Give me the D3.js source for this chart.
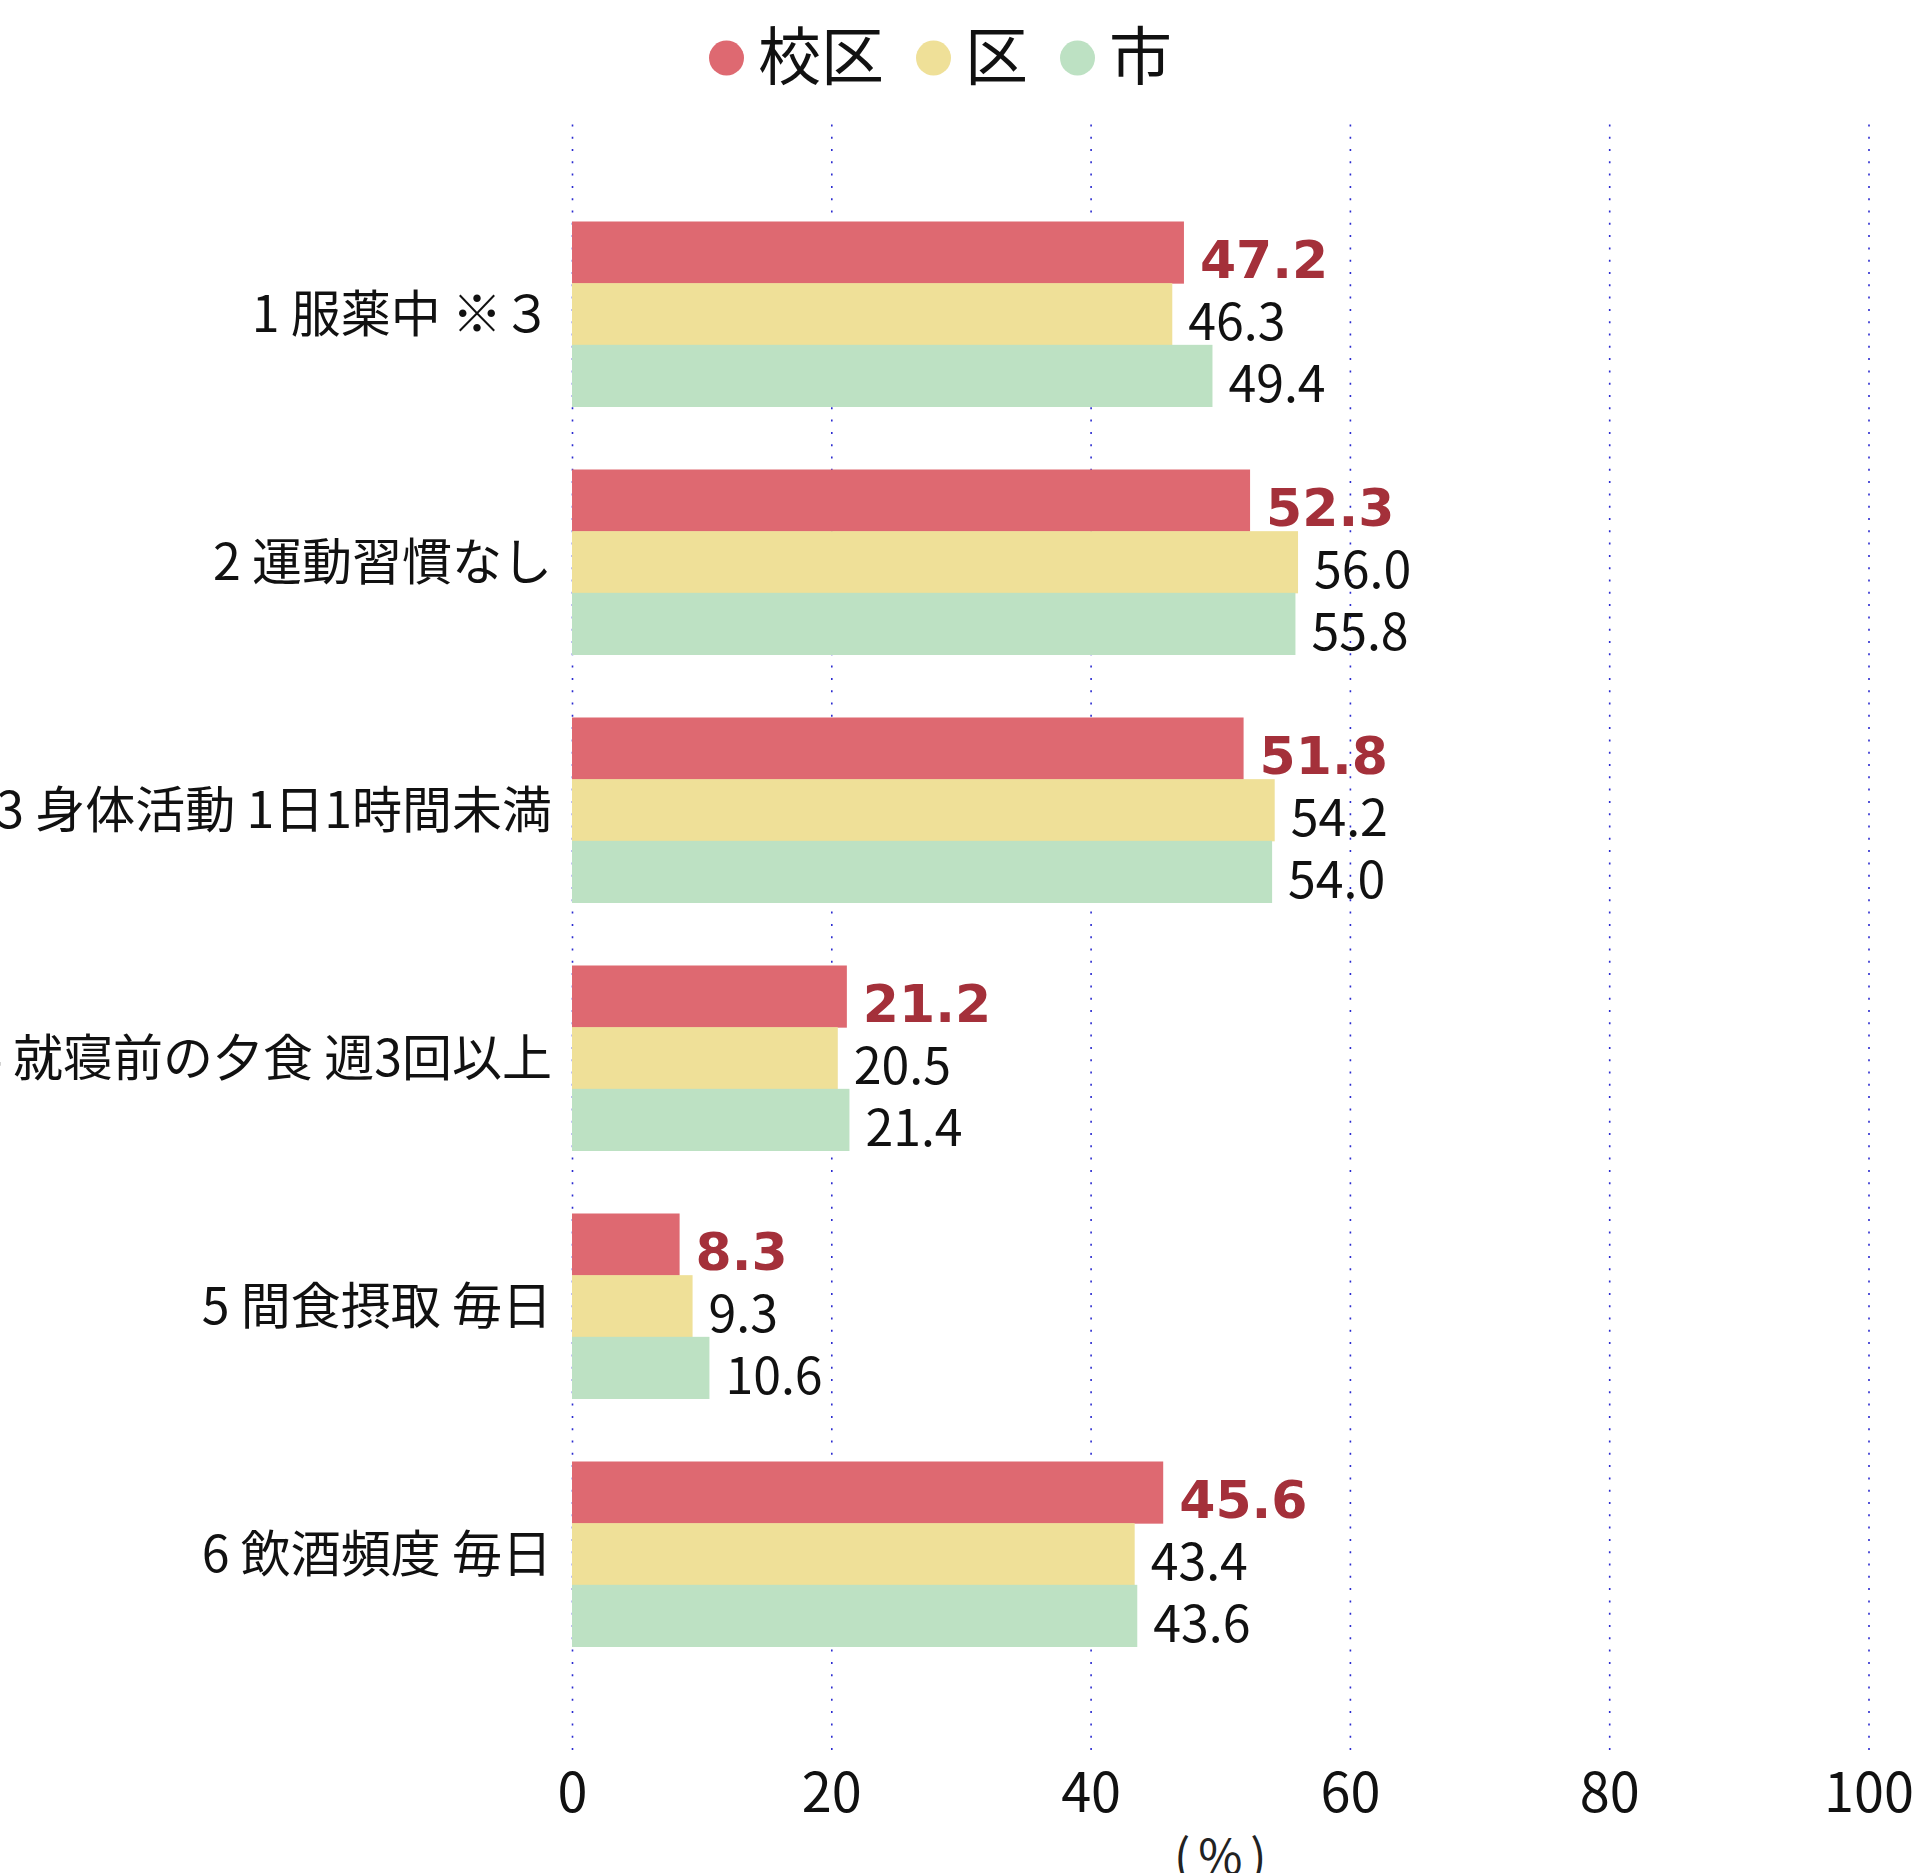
<!DOCTYPE html>
<html lang="ja">
<head>
    <meta charset="UTF-8">
    <script src="https://d3js.org/d3.v7.min.js"></script>
    <title>chart</title>
    <style>
        body { margin: 0; background: #fff; }
        text { font-family: "Noto Sans CJK JP", "Noto Sans", sans-serif; }
    </style>
</head>
<body>
    <div class="chart"></div>
    <script>
        const categories = ["1 服薬中 ※３", "2 運動習慣なし", "3 身体活動 1日1時間未満",
                            "4 就寝前の夕食 週3回以上", "5 間食摂取 毎日", "6 飲酒頻度 毎日"];
        const seriesNames = ["校区", "区", "市"];
        const kouku = [47.2, 52.3, 51.8, 21.2, 8.3, 45.6];
        const ku = [46.3, 56.0, 54.2, 20.5, 9.3, 43.4];
        const shi = [49.4, 55.8, 54.0, 21.4, 10.6, 43.6];
        const xTicks = [0, 20, 40, 60, 80, 100];
        const colors = ["#de6971", "#efe098", "#bde1c3"];

        const W = 1916, H = 1873;
        const left = 572, right = 1868.5, gridTop = 120, gridBottom = 1750;

        const svg = d3.select(".chart").append("svg")
          .attr("width", W).attr("height", H);

        const x = d3.scaleLinear().domain([0, 100]).range([left, right]);
        const y = d3.scaleBand().domain(categories)
          .range([190, 1678]).paddingInner(0.254).paddingOuter(0.127);
        const ySub = d3.scaleBand().domain(seriesNames).range([0, y.bandwidth()]);

        // grid + tick labels
        const axis = svg.append("g")
          .attr("transform", "translate(0," + gridBottom + ")")
          .call(d3.axisBottom(x).tickValues(xTicks)
            .tickSize(-(gridBottom - gridTop)).tickPadding(24));
        axis.select(".domain").remove();
        axis.selectAll("line")
          .attr("stroke", "#2b2bd0")
          .attr("stroke-width", 1.6)
          .attr("stroke-dasharray", "2,10.3");
        axis.selectAll("text")
          .attr("font-size", 54)
          .attr("fill", "#111")
          .style("font-family", "'Noto Sans CJK JP', sans-serif");

        const rows = categories.map((c, i) => ({
          cat: c,
          vals: [kouku[i], ku[i], shi[i]]
        }));

        const groups = svg.selectAll(".grp").data(rows).enter().append("g")
          .attr("class", "grp")
          .attr("transform", d => "translate(0," + y(d.cat) + ")");

        groups.selectAll("rect")
          .data(d => d.vals.map((v, k) => ({ s: seriesNames[k], v: v, k: k })))
          .enter().append("rect")
          .attr("x", x(0))
          .attr("y", d => ySub(d.s))
          .attr("width", d => x(d.v) - x(0))
          .attr("height", ySub.bandwidth() + 0.5)
          .attr("fill", d => colors[d.k]);

        groups.selectAll(".val")
          .data(d => d.vals.map((v, k) => ({ s: seriesNames[k], v: v, k: k })))
          .enter().append("text")
          .attr("class", "val")
          .attr("x", d => x(d.v) + 16)
          .attr("y", d => ySub(d.s) + ySub.bandwidth() / 2 + 26)
          .attr("font-size", d => d.k === 0 ? 52 : 50)
          .attr("font-weight", d => d.k === 0 ? "bold" : "normal")
          .style("font-family", d => d.k === 0 ? "'DejaVu Sans', sans-serif" : "'Noto Sans CJK JP', sans-serif")
          .attr("fill", d => d.k === 0 ? "#a4303a" : "#111")
          .text(d => d.v.toFixed(1));

        // category labels
        svg.selectAll(".cat").data(categories).enter().append("text")
          .attr("class", "cat")
          .attr("x", 552)
          .attr("y", d => y(d) + y.bandwidth() / 2)
          .attr("dy", "0.36em")
          .attr("text-anchor", "end")
          .attr("font-size", 50)
          .attr("fill", "#111")
          .text(d => d);

        // unit
        svg.append("text")
          .attr("x", x(50) + 4).attr("y", 1874)
          .attr("text-anchor", "middle")
          .attr("font-size", 48)
          .attr("letter-spacing", 8)
          .attr("fill", "#222")
          .text("(%)");

        // legend
        const legend = svg.append("g");
        let lx = 0;
        seriesNames.forEach((n, k) => {
          const item = legend.append("g").attr("transform", "translate(" + lx + ",0)");
          item.append("circle").attr("cx", 17.5).attr("cy", 58).attr("r", 17.5)
            .attr("fill", colors[k]);
          const t = item.append("text").attr("x", 49).attr("y", 51)
            .attr("dominant-baseline", "central")
            .attr("font-size", 63).attr("fill", "#111").text(n);
          lx += 49 + t.node().getComputedTextLength() + 32;
        });
        const legendW = lx - 32;
        legend.attr("transform", "translate(" + (940.5 - legendW / 2) + ",0)");
    </script>
</body>
</html>
